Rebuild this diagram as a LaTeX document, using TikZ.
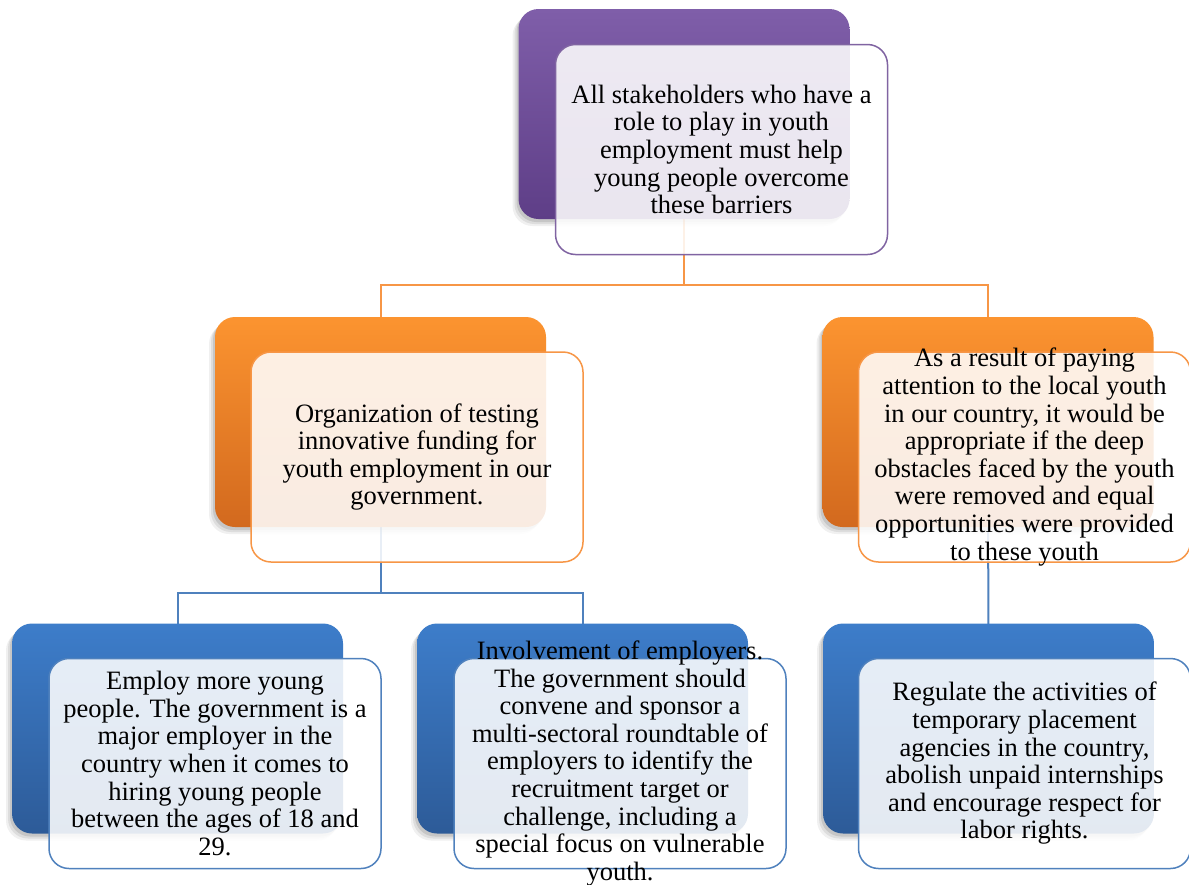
\documentclass[tikz,border=0pt]{standalone}
\usepackage{fontspec}
\setmainfont{Liberation Serif}
\usetikzlibrary{shadows}
\definecolor{purpT}{HTML}{7F5EA9}
\definecolor{purpB}{HTML}{5E3E87}
\definecolor{purpL}{HTML}{8064A2}
\definecolor{orT}{HTML}{FC9430}
\definecolor{orB}{HTML}{D2691E}
\definecolor{orL}{HTML}{F79646}
\definecolor{blT}{HTML}{3D7DCA}
\definecolor{blB}{HTML}{2D5B98}
\definecolor{blL}{HTML}{4F81BD}
\begin{document}
\begin{tikzpicture}[x=1pt,y=-1pt,
  backbox/.style={rounded corners=20pt, minimum width=331pt, minimum height=210pt,
    inner sep=0pt, draw=none,
    drop shadow={shadow xshift=-6pt, shadow yshift=-7pt, opacity=0.06, fill=black},
    drop shadow={shadow xshift=-4pt, shadow yshift=-5pt, opacity=0.08, fill=black},
    drop shadow={shadow xshift=-2pt, shadow yshift=-3pt, opacity=0.10, fill=black}},
  pback/.style={backbox, top color=purpT, bottom color=purpB},
  oback/.style={backbox, top color=orT, bottom color=orB},
  bback/.style={backbox, top color=blT, bottom color=blB},
  frontbox/.style={rounded corners=20pt, minimum width=332pt, minimum height=210pt,
    inner sep=0pt, fill=white, fill opacity=0.87, line width=1.5pt},
  txt/.style={inner sep=0pt, align=center, text=black,
    font=\fontsize{26.5}{27.6}\selectfont},
  oline/.style={draw=orL, line width=2pt},
  bline/.style={draw=blL, line width=2pt}]
\useasboundingbox (0,0) rectangle (1189,884);
\fill[white] (0,0) rectangle (1189,884);
% hubs
\coordinate (hub1) at (684,285);
\coordinate (hub2) at (380.5,593);
% connectors
\node[minimum size=0pt, inner sep=0pt] (tbc) at (684,114) {};
\node[minimum size=0pt, inner sep=0pt] (mlc) at (380.5,422) {};
\node[minimum size=0pt, inner sep=0pt] (mrc) at (988,422) {};
\draw[oline] (tbc) -- (hub1);
\draw[oline] (hub1) -| (mlc);
\draw[oline] (hub1) -| (mrc);
\node[minimum size=0pt, inner sep=0pt] (blc) at (177.5,728.5) {};
\node[minimum size=0pt, inner sep=0pt] (bmc) at (582.5,728.5) {};
\node[minimum size=0pt, inner sep=0pt] (brc) at (988.5,728.5) {};
\draw[bline] (mlc) -- (hub2);
\draw[bline] (hub2) -| (blc);
\draw[bline] (hub2) -| (bmc);
\draw[bline] (mrc) -- (brc);
% back boxes
\node[pback] (tb) at (684,114) {};
\node[oback] (mlb) at (380.5,422) {};
\node[oback] (mrb) at (988,422) {};
\node[bback] (blb) at (177.5,728.5) {};
\node[bback] (bmb) at (582.5,728.5) {};
\node[bback] (brb) at (988.5,728.5) {};
% front boxes
\node[frontbox, draw=purpL] (tf) at (721.5,149.5) {};
\node[frontbox, draw=orL] (mlf) at (417,457) {};
\node[frontbox, draw=orL] (mrf) at (1024.5,457) {};
\node[frontbox, draw=blL] (blf) at (215,763.5) {};
\node[frontbox, draw=blL] (bmf) at (620,763.5) {};
\node[frontbox, draw=blL] (brf) at (1024.5,763.5) {};
% texts
\node[txt] (tt) at (tf.center) {All stakeholders who have a\\ role to play in youth\\ employment must help\\ young people overcome\\ these barriers};
\node[txt] (mlt) at (mlf.center) {Organization of testing\\ innovative funding for\\ youth employment in our\\ government.};
\node[txt] (mrt) at (mrf.center) {As a result of paying\\ attention to the local youth\\ in our country, it would be\\ appropriate if the deep\\ obstacles faced by the youth\\ were removed and equal\\ opportunities were provided\\ to these youth};
\node[txt] (blt) at (blf.center) {Employ more young\\ people. The government is a\\ major employer in the\\ country when it comes to\\ hiring young people\\ between the ages of 18 and\\ 29.};
\node[txt] (bmt) at (bmf.center) {Involvement of employers.\\ The government should\\ convene and sponsor a\\ multi-sectoral roundtable of\\ employers to identify the\\ recruitment target or\\ challenge, including a\\ special focus on vulnerable\\ youth.};
\node[txt] (brt) at (brf.center) {Regulate the activities of\\ temporary placement\\ agencies in the country,\\ abolish unpaid internships\\ and encourage respect for\\ labor rights.};
\end{tikzpicture}
\end{document}
